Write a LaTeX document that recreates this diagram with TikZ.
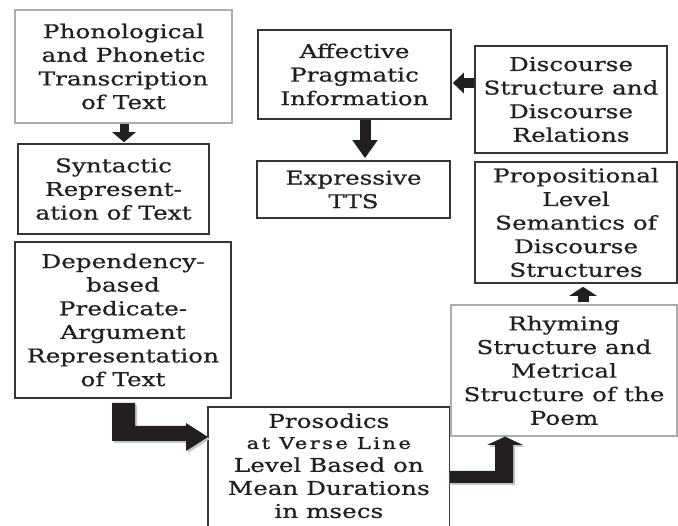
\documentclass[tikz,border=0pt]{standalone}
\usepackage{fontspec}
\setmainfont{DejaVu Serif}[FakeStretch=1.3,FakeBold=0.6]
\usetikzlibrary{arrows.meta}
\definecolor{ink}{HTML}{231F20}
\begin{document}
\begin{tikzpicture}[x=1pt,y=-1pt,
  boxline/.style={draw=ink!90, line width=1.6pt},
  box/.style={boxline, align=center, inner sep=0pt,
    font=\fontsize{19}{23.6}\selectfont, text=ink},
  lbox/.style={box, draw=gray!65, line width=1.2pt},
  arr/.style={fill=ink},
  sarrow/.style={draw=ink, line width=10pt, -{Triangle[length=11pt,width=23pt]}}
]
\clip (0,0) rectangle (678,526);
\fill[white] (0,0) rectangle (678,526);

\node[lbox, minimum width=217pt, minimum height=113pt] (phon) at (123.5,66.5)
  {Phonological\\and Phonetic\\Transcription\\of Text};
\node[box, minimum width=191pt, minimum height=90pt] (syn) at (113.5,189)
  {Syntactic\\Represent-\\ation of Text};
\node[box, minimum width=216pt, minimum height=156pt] (dep) at (123,320)
  {Dependency-\\based\\Predicate-\\Argument\\Representation\\of Text};
\node[box, draw=none, anchor=north west, minimum width=240pt, minimum height=116pt,
  font=\fontsize{19}{23}\selectfont] (pros) at (208,407)
  {Prosodics\\[-2pt]{\fontsize{16}{16}\selectfont\addfontfeature{FakeBold=1.5,LetterSpace=16}at Verse Line}\\Level Based on\\Mean Durations\\in msecs};
\draw[boxline] ([yshift=-20pt]pros.south west) -- (pros.north west) -- (pros.north east) -- ([yshift=-20pt]pros.south east);
\node[lbox, minimum width=226pt, minimum height=131pt] (rhym) at (564,370.5)
  {Rhyming\\Structure and\\Metrical\\Structure of the\\Poem};
\node[box, minimum width=202pt, minimum height=121pt] (prop) at (576,222.5)
  {Propositional\\Level\\Semantics of\\Discourse\\Structures};
\node[box, minimum width=193pt, minimum height=89pt] (aff) at (354.5,74.5)
  {Affective\\Pragmatic\\Information};
\node[box, minimum width=192pt, minimum height=107pt] (disc) at (571,99.5)
  {Discourse\\Structure and\\Discourse\\Relations};
\node[box, minimum width=193pt, minimum height=57pt] (expr) at (353.5,189.5)
  {Expressive\\TTS};

% straight arrows
\draw[sarrow, line width=9pt, -{Triangle[length=10pt,width=23pt]}, shorten >=1pt]
  ([xshift=0.5pt]phon.south) -- ([xshift=0.5pt]phon.south |- syn.north);
\draw[sarrow, line width=11pt, -{Triangle[length=18pt,width=24pt]}, shorten >=2pt]
  ([xshift=10.5pt]aff.south) -- ([xshift=10.5pt]aff.south |- expr.north);
\draw[sarrow, line width=10pt, -{Triangle[length=11pt,width=20pt]}, shorten >=1pt]
  (disc.west |- 0,83) -- (aff.east |- 0,83);
\draw[sarrow, line width=11pt, -{Triangle[length=9pt,width=27pt]}, shorten >=3pt, shorten <=2pt]
  (rhym.north -| 583,0) -- (prop.south -| 583,0);

% L-shaped arrows
\fill[gray!45] (114,405) -- (137,405) -- (137,428) -- (188,428) -- (188,425)
  -- ([shift={(2,2)}]pros.west |- 0,437) -- (188,453) -- (188,443) -- (114,443) -- cycle;
\fill[arr] (112,403) -- (135,403) -- (135,426) -- (186,426) -- (186,423)
  -- (pros.west |- 0,437) -- (186,451) -- (186,441) -- (112,441) -- cycle;

\fill[gray!45] ([shift={(0,2)}]pros.east |- 0,471) -- (497,473) -- (497,447) -- (489,447)
  -- (507,438) -- (525,447) -- (515,447) -- (515,485) -- ([shift={(0,2)}]pros.east |- 0,483) -- cycle;
\fill[arr] (pros.east |- 0,471) -- (495,471) -- (495,445) -- (487,445)
  -- (rhym.south -| 505,0) -- (523,445) -- (513,445) -- (513,483) -- (pros.east |- 0,483) -- cycle;
\end{tikzpicture}
\end{document}
